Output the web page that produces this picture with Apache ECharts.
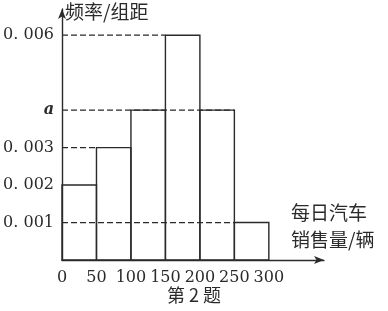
<!DOCTYPE html>
<html><head><meta charset="utf-8">
<script src="https://cdn.jsdelivr.net/npm/echarts@6/dist/echarts.min.js"></script>
<style>html,body{margin:0;padding:0;background:#fff}#c{width:388px;height:311px}</style>
</head><body><div id="c"></div>
<script>
// Bins (daily car sales, vehicles) and frequency/width values
const binStarts = [0, 50, 100, 150, 200, 250];
const binEnds   = [50, 100, 150, 200, 250, 300];
const freqPerWidth = [0.002, 0.003, 0.004, 0.006, 0.004, 0.001];
// Dashed reference lines: level and x where the dash ends
const dashLevels = [0.006, 0.004, 0.003, 0.001];
const dashEnds   = [150, 250, 50, 250];
// Tick labels
const yTickValues = [0.001, 0.002, 0.003, 0.004, 0.006];
const yTickLabels = ['0. 001', '0. 002', '0. 003', '{a|a}', '0. 006'];
const xTickValues = [0, 50, 100, 150, 200, 250, 300];
const xTickLabels = ['0', '50', '100', '150', '200', '250', '300'];
const yName = '频率/组距';
const xName = '每日汽车\n销售量/辆';
const caption = '第 2 题';

const INK = '#2a2a2a';
const SERIF = '"DejaVu Serif", "Liberation Serif", serif';
const CJK = '"Noto Sans CJK SC", sans-serif';

const chart = echarts.init(document.getElementById('c'), null, {renderer: 'canvas'});
const barData = binStarts.map((s, i) => [s, binEnds[i], freqPerWidth[i]]);
const dashData = dashLevels.map((v, i) => [0, dashEnds[i], v]);

chart.setOption({
  animation: false,
  backgroundColor: '#fff',
  grid: {left: 62, right: 64, top: 9, bottom: 51, containLabel: false, outerBoundsMode: 'none'},
  xAxis: {
    type: 'value', min: 0, max: 380, interval: 50,
    axisLine: {show: true, symbol: ['none', 'arrow'], symbolSize: [6, 10], lineStyle: {color: INK, width: 1.4}},
    axisTick: {show: false}, splitLine: {show: false},
    axisLabel: {
      margin: 10, color: INK, fontFamily: SERIF, fontSize: 16,
      formatter: v => { const i = xTickValues.indexOf(Math.round(v)); return i >= 0 ? xTickLabels[i] : ''; }
    }
  },
  yAxis: {
    type: 'value', min: 0, max: 0.0067, interval: 0.001,
    axisLine: {show: true, symbol: ['none', 'arrow'], symbolSize: [6, 10], lineStyle: {color: INK, width: 1.4}},
    axisTick: {show: false}, splitLine: {show: false},
    axisLabel: {
      margin: 8, color: INK, fontFamily: SERIF, fontSize: 16,
      formatter: v => {
        const k = Math.round(v * 1000);
        const i = yTickValues.findIndex(t => Math.round(t * 1000) === k);
        return i >= 0 ? yTickLabels[i] : '';
      },
      rich: {a: {fontFamily: SERIF, fontStyle: 'italic', fontWeight: 'bold', fontSize: 16, color: INK}}
    }
  },
  graphic: [
    {type: 'text', left: 65, top: 2, style: {text: yName, font: '19px ' + CJK, fill: INK}},
    {type: 'text', left: 291, top: 199, style: {text: xName, font: '19px ' + CJK, fill: INK, lineHeight: 27}},
    {type: 'text', left: 167, top: 286, style: {text: caption, font: '18px ' + CJK, fill: INK}}
  ],
  series: [
    {
      type: 'custom', data: dashData, silent: true,
      renderItem: (params, api) => {
        const p0 = api.coord([api.value(0), api.value(2)]);
        const p1 = api.coord([api.value(1), api.value(2)]);
        return {type: 'line', shape: {x1: p0[0], y1: p0[1], x2: p1[0], y2: p1[1]},
          style: {stroke: INK, lineWidth: 1.2, lineDash: [6, 3]}};
      }
    },
    {
      type: 'custom', data: barData, silent: true,
      renderItem: (params, api) => {
        const tl = api.coord([api.value(0), api.value(2)]);
        const br = api.coord([api.value(1), 0]);
        return {type: 'rect', shape: {x: tl[0], y: tl[1], width: br[0] - tl[0], height: br[1] - tl[1]},
          style: {fill: 'none', stroke: INK, lineWidth: 1.4}};
      }
    }
  ]
});
</script></body></html>
